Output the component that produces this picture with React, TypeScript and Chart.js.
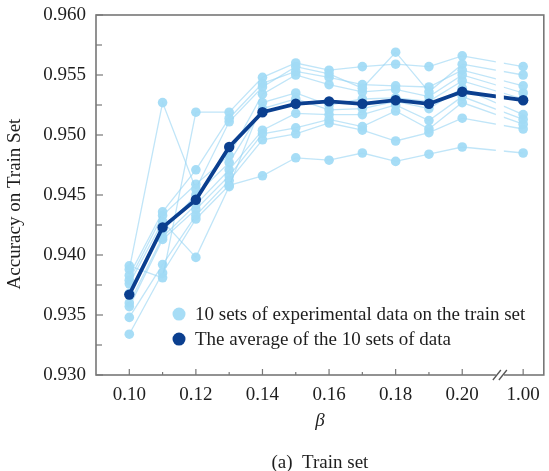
import React, { useEffect, useRef } from "react";
import { Chart, registerables } from "chart.js";

Chart.register(...registerables);

// ---- data ----
const betaLabels = ["0.10", "0.11", "0.12", "0.13", "0.14", "0.15", "0.16", "0.17", "0.18", "0.19", "0.20", "1.00"];
const betaTickLabels = ["0.10", "0.12", "0.14", "0.16", "0.18", "0.20", "1.00"];
const betaMinorTickLabels = ["0.11", "0.13", "0.15", "0.17", "0.19"];
const yTickValues = [0.93, 0.935, 0.94, 0.945, 0.95, 0.955, 0.96];

const run1 = [0.9388, 0.9527, 0.9455, 0.9511, 0.9540, 0.9557, 0.9551, 0.9539, 0.9569, 0.9536, 0.9559, 0.9550];
const run2 = [0.9391, 0.9381, 0.9519, 0.9519, 0.9548, 0.9560, 0.9554, 0.9557, 0.9559, 0.9557, 0.9566, 0.9557];
const run3 = [0.9383, 0.9436, 0.9471, 0.9514, 0.9543, 0.9553, 0.9548, 0.9542, 0.9541, 0.9540, 0.9554, 0.9541];
const run4 = [0.9379, 0.9433, 0.9459, 0.9483, 0.9534, 0.9550, 0.9542, 0.9536, 0.9538, 0.9532, 0.9550, 0.9535];
const run5 = [0.9376, 0.9428, 0.9398, 0.9457, 0.9527, 0.9535, 0.9525, 0.9530, 0.9531, 0.9528, 0.9545, 0.9530];
const run6 = [0.9368, 0.9420, 0.9450, 0.9477, 0.9522, 0.9530, 0.9521, 0.9522, 0.9528, 0.9522, 0.9539, 0.9517];
const run7 = [0.9360, 0.9415, 0.9442, 0.9471, 0.9504, 0.9518, 0.9517, 0.9517, 0.9525, 0.9512, 0.9532, 0.9513];
const run8 = [0.9357, 0.9413, 0.9438, 0.9466, 0.9501, 0.9506, 0.9513, 0.9507, 0.9520, 0.9505, 0.9527, 0.9509];
const run9 = [0.9348, 0.9392, 0.9433, 0.9462, 0.9496, 0.9501, 0.9510, 0.9504, 0.9495, 0.9502, 0.9514, 0.9505];
const run10 = [0.9334, 0.9385, 0.9430, 0.9458, 0.9466, 0.9481, 0.9479, 0.9485, 0.9478, 0.9484, 0.9490, 0.9485];
const averageRun = [0.9367, 0.9423, 0.9446, 0.9490, 0.9519, 0.9526, 0.9528, 0.9526, 0.9529, 0.9526, 0.9536, 0.9529];

const runs = [run1, run2, run3, run4, run5, run6, run7, run8, run9, run10];

const legendLight = "10 sets of experimental data on the train set";
const legendDark = "The average of the 10 sets of data";
const yTitle = "Accuracy on Train Set";
const xTitle = "β";
const caption = "(a)  Train set";

// ---- layout / style ----
const LIGHT_POINT = "rgba(162, 219, 246, 0.95)";
const LIGHT_LINE = "rgba(150, 212, 243, 0.6)";
const DARK = "#0b3f8f";
const FRAME = "#777777";
const TEXT = "#1e1e1e";
const FONT = "'Liberation Serif', 'Times New Roman', serif";
const BREAK_POS = 11.83; // position of the "1.00" category after the axis break
const BREAK_MARK = 11.13;

const posOf = (i: number) => (i <= 10 ? i : BREAK_POS);
const posOfLabel = (l: string) => posOf(betaLabels.indexOf(l));

const framePlugin = {
  id: "framePlugin",
  afterDatasetsDraw(chart: any) {
    const { ctx, chartArea } = chart;
    const xs = chart.scales.x;
    const ys = chart.scales.y;
    const { left, right, top, bottom } = chartArea;
    ctx.save();
    // break gap through the lines
    const bx = xs.getPixelForValue(BREAK_MARK);
    ctx.fillStyle = "#ffffff";
    ctx.fillRect(bx - 4, top + 2, 8, bottom - top - 4);

    // frame
    ctx.strokeStyle = FRAME;
    ctx.lineWidth = 1.6;
    ctx.strokeRect(left, top, right - left, bottom - top);

    // y ticks inward
    ctx.lineWidth = 1.2;
    for (let k = 0; k < yTickValues.length; k++) {
      const v = yTickValues[k];
      const py = ys.getPixelForValue(v);
      ctx.beginPath();
      ctx.moveTo(left, py);
      ctx.lineTo(left + 7, py);
      ctx.stroke();
      if (k < yTickValues.length - 1) {
        const pm = ys.getPixelForValue((v + yTickValues[k + 1]) / 2);
        ctx.beginPath();
        ctx.moveTo(left, pm);
        ctx.lineTo(left + 6, pm);
        ctx.stroke();
      }
    }
    // x ticks inward
    betaTickLabels.forEach((l) => {
      const px = xs.getPixelForValue(posOfLabel(l));
      ctx.beginPath();
      ctx.moveTo(px, bottom);
      ctx.lineTo(px, bottom - 6);
      ctx.stroke();
    });
    betaMinorTickLabels.forEach((l) => {
      const px = xs.getPixelForValue(posOfLabel(l));
      ctx.beginPath();
      ctx.moveTo(px, bottom);
      ctx.lineTo(px, bottom - 3);
      ctx.stroke();
    });

    // axis break marks
    ctx.fillStyle = "#ffffff";
    ctx.fillRect(bx - 4, bottom - 2, 8, 4);
    ctx.strokeStyle = "#555555";
    ctx.lineWidth = 1.3;
    [-3, 3].forEach((d) => {
      ctx.beginPath();
      ctx.moveTo(bx + d - 4, bottom + 5);
      ctx.lineTo(bx + d + 4, bottom - 5);
      ctx.stroke();
    });

    // legend
    ctx.font = `19px ${FONT}`;
    ctx.textBaseline = "middle";
    ctx.textAlign = "left";
    const lx = left + 83;
    const ly1 = ys.getPixelForValue(0.93508);
    const ly2 = ly1 + 25;
    ctx.fillStyle = LIGHT_POINT;
    ctx.beginPath();
    ctx.arc(lx, ly1, 6.5, 0, Math.PI * 2);
    ctx.fill();
    ctx.fillStyle = DARK;
    ctx.beginPath();
    ctx.arc(lx, ly2, 6.5, 0, Math.PI * 2);
    ctx.fill();
    ctx.fillStyle = TEXT;
    ctx.fillText(legendLight, lx + 16, ly1 + 1);
    ctx.fillText(legendDark, lx + 16, ly2 + 1);

    // titles
    const cx = (left + right) / 2;
    ctx.textAlign = "center";
    ctx.font = `italic 19px ${FONT}`;
    ctx.fillText(xTitle, cx, 421);
    ctx.font = `19px ${FONT}`;
    ctx.fillText(caption, cx, 463);
    ctx.translate(15, 204);
    ctx.rotate(-Math.PI / 2);
    ctx.fillText(yTitle, 0, 0);
    ctx.restore();
  },
};

export default function App() {
  const canvasRef = useRef<HTMLCanvasElement | null>(null);

  useEffect(() => {
    if (!canvasRef.current) return;
    const lightSets = runs.map((r, idx) => ({
      label: `run ${idx + 1}`,
      data: r.map((v, i) => ({ x: posOf(i), y: v })),
      borderColor: LIGHT_LINE,
      borderWidth: 1.3,
      pointRadius: 4.8,
      pointBorderWidth: 0,
      pointBackgroundColor: LIGHT_POINT,
      pointBorderColor: LIGHT_POINT,
      tension: 0,
    }));
    const avgSet = {
      label: "average",
      data: averageRun.map((v, i) => ({ x: posOf(i), y: v })),
      borderColor: DARK,
      borderWidth: 3.8,
      pointRadius: 5.2,
      pointBorderWidth: 0,
      pointBackgroundColor: DARK,
      pointBorderColor: DARK,
      tension: 0,
    };
    const chart = new Chart(canvasRef.current, {
      type: "line",
      data: { datasets: [avgSet, ...lightSets] as any },
      plugins: [framePlugin],
      options: {
        animation: false,
        responsive: true,
        maintainAspectRatio: false,
        layout: { padding: { top: 15, right: 1, bottom: 0, left: 0 } },
        plugins: { legend: { display: false }, tooltip: { enabled: false }, title: { display: false } },
        scales: {
          x: {
            type: "linear",
            min: -1,
            max: 12.45,
            grid: { display: false, drawTicks: false },
            border: { display: false },
            afterFit: (s: any) => {
              s.height = 96;
              s.paddingLeft = 0;
              s.paddingRight = 0;
            },
            afterBuildTicks: (s: any) => {
              s.ticks = betaTickLabels.map((l) => ({ value: posOfLabel(l) }));
            },
            ticks: {
              autoSkip: false,
              maxRotation: 0,
              padding: 9,
              color: TEXT,
              font: { family: FONT, size: 19 },
              callback: (v: any) => {
                const l = betaTickLabels.find((t) => Math.abs(posOfLabel(t) - Number(v)) < 1e-6);
                return l ?? "";
              },
            },
          },
          y: {
            type: "linear",
            min: 0.93,
            max: 0.96,
            grid: { display: false, drawTicks: false },
            border: { display: false },
            afterFit: (s: any) => {
              s.width = 96;
              s.paddingTop = 0;
              s.paddingBottom = 0;
            },
            afterBuildTicks: (s: any) => {
              s.ticks = yTickValues.map((v) => ({ value: v }));
            },
            ticks: {
              padding: 10,
              color: TEXT,
              font: { family: FONT, size: 19 },
              callback: (v: any) => Number(v).toFixed(3),
            },
          },
        },
      },
    });
    return () => chart.destroy();
  }, []);

  return (
    <div style={{ position: "fixed", left: 0, top: 0, width: 549, height: 471, background: "#fff" }}>
      <canvas ref={canvasRef} />
    </div>
  );
}
